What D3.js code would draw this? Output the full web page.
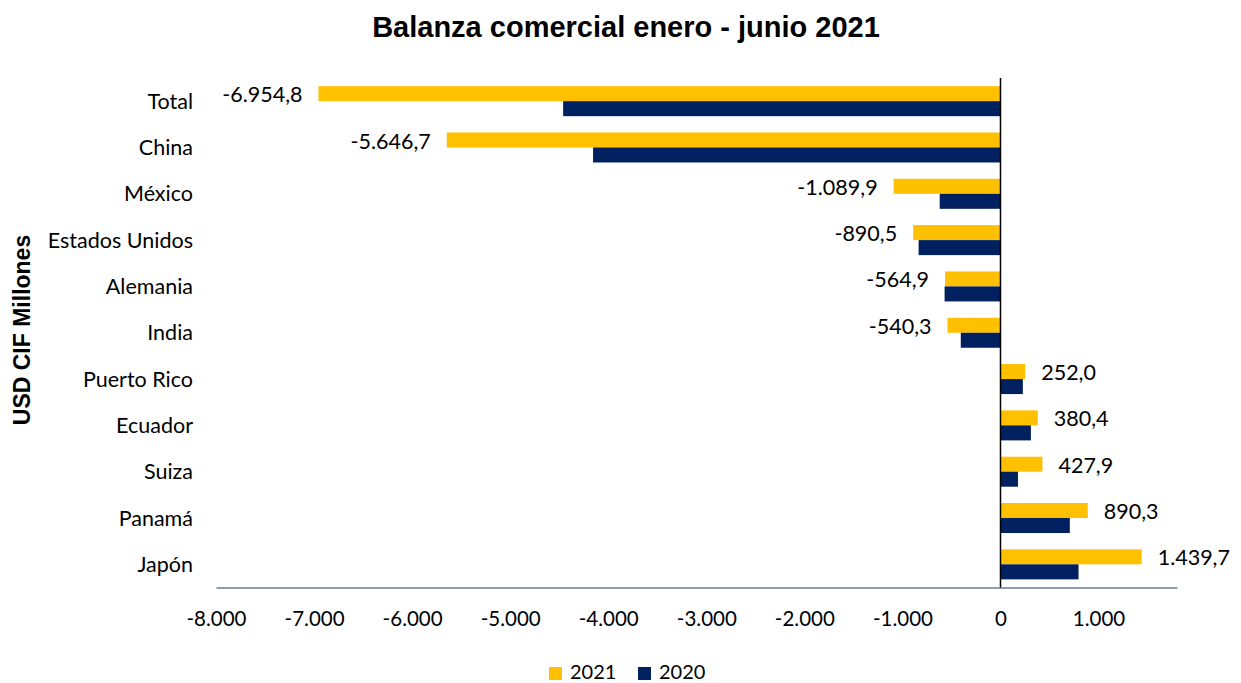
<!DOCTYPE html>
<html>
<head>
<meta charset="utf-8">
<script src="https://cdn.jsdelivr.net/npm/d3@7"></script>
<style>
    body { margin: 0; background: #fff; }
    text { font-family: Lato, "Open Sans", sans-serif; fill: #000; }
</style>
</head>
<body>
<div id="chart"></div>
<script>
// Data (USD CIF millones)
const countries = ["Total", "China", "México", "Estados Unidos", "Alemania", "India",
                   "Puerto Rico", "Ecuador", "Suiza", "Panamá", "Japón"];
const values2021 = [-6954.8, -5646.7, -1089.9, -890.5, -564.9, -540.3, 252.0, 380.4, 427.9, 890.3, 1439.7];
const values2020 = [-4460, -4155, -620, -835, -570, -405, 228, 310, 178, 707, 796];
const seriesNames = ["2021", "2020"];
const seriesColors = ["#FFC000", "#002060"];
const xTicks = [-8000, -7000, -6000, -5000, -4000, -3000, -2000, -1000, 0, 1000];

const width = 1241, height = 683;

const es = d3.formatLocale({ decimal: ",", thousands: ".", grouping: [3], currency: ["", ""], minus: "-" });
const fmtTick = es.format(",.0f");
const fmtVal = es.format(",.1f");

const data = countries.map((c, i) => ({ country: c, "2021": values2021[i], "2020": values2020[i] }));

const svg = d3.select("#chart")
    .append("svg")
    .attr("width", width)
    .attr("height", height);

const x = d3.scaleLinear().domain([-8000, 1800]).range([216, 1177]);
const y = d3.scaleBand().domain(countries).range([78, 587.5])
    .paddingInner(0.352).paddingOuter(0.176);
const ySub = d3.scaleBand().domain(seriesNames).range([0, y.bandwidth()]);
const color = d3.scaleOrdinal(seriesNames, seriesColors);

// Title
svg.append("text")
    .attr("x", 626)
    .attr("y", 37)
    .attr("text-anchor", "middle")
    .style("font-family", "'Liberation Sans', Arial, sans-serif")
    .style("font-weight", "bold")
    .style("font-size", "29px")
    .text("Balanza comercial enero - junio 2021");

// Y axis title
svg.append("text")
    .attr("transform", "translate(30, 330) rotate(-90)")
    .attr("text-anchor", "middle")
    .style("font-family", "'Liberation Sans', Arial, sans-serif")
    .style("font-weight", "bold")
    .style("font-size", "23px")
    .text("USD CIF Millones");

// Bars
const groups = svg.selectAll(".group")
    .data(data)
    .enter()
    .append("g")
    .attr("class", "group")
    .attr("transform", d => `translate(0, ${y(d.country)})`);

groups.selectAll("rect")
    .data(d => seriesNames.map(s => ({ key: s, value: d[s] })))
    .enter()
    .append("rect")
    .attr("x", d => x(Math.min(0, d.value)))
    .attr("y", d => ySub(d.key))
    .attr("width", d => Math.abs(x(d.value) - x(0)))
    .attr("height", ySub.bandwidth())
    .attr("fill", d => color(d.key));

// Value labels (2021 only)
groups.append("text")
    .attr("x", d => d["2021"] < 0 ? x(d["2021"]) - 16 : x(d["2021"]) + 16)
    .attr("y", ySub("2021") + ySub.bandwidth() / 2 + 1)
    .attr("dy", "0.35em")
    .attr("text-anchor", d => d["2021"] < 0 ? "end" : "start")
    .style("font-size", "21.5px")
    .text(d => fmtVal(d["2021"]));

// Category labels
svg.selectAll(".cat")
    .data(countries)
    .enter()
    .append("text")
    .attr("class", "cat")
    .attr("x", 193)
    .attr("y", d => y(d) + y.bandwidth() / 2)
    .attr("dy", "0.35em")
    .attr("text-anchor", "end")
    .style("font-size", "21.5px")
    .text(d => d);

// X axis
const xAxis = svg.append("g")
    .attr("transform", `translate(0, ${y.range()[1]})`)
    .call(d3.axisBottom(x).tickValues(xTicks).tickFormat(fmtTick).tickSize(0).tickPadding(24));
xAxis.select(".domain").attr("stroke", "#1f3864").attr("stroke-width", 1.2);
xAxis.selectAll("text").style("font-size", "20.5px").style("font-family", "Lato, sans-serif");

// Zero line
svg.append("line")
    .attr("x1", x(0)).attr("x2", x(0))
    .attr("y1", y.range()[0]).attr("y2", y.range()[1])
    .attr("stroke", "#000")
    .attr("stroke-width", 1.5);

// Legend
const legend = svg.append("g")
    .selectAll("g")
    .data(seriesNames)
    .enter()
    .append("g")
    .attr("transform", (d, i) => `translate(${549 + i * 89}, 667)`);
legend.append("rect")
    .attr("width", 13)
    .attr("height", 13)
    .attr("fill", d => color(d));
legend.append("text")
    .attr("x", 21)
    .attr("y", 12)
    .style("font-size", "20px")
    .text(d => d);
</script>
</body>
</html>
